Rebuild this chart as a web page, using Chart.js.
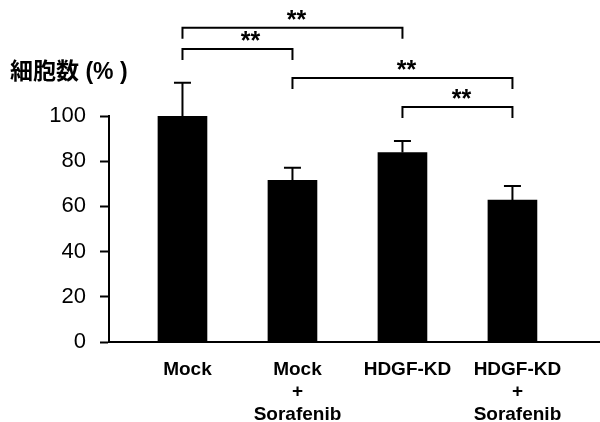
<!DOCTYPE html>
<html>
<head>
<meta charset="utf-8">
<script src="https://cdn.jsdelivr.net/npm/chart.js@4"></script>
<style>
  html, body { margin: 0; padding: 0; background: #fff; }
  #wrap { width: 600px; height: 422px; }
</style>
</head>
<body>
<div id="wrap"><canvas id="chart1"></canvas></div>
<script>
const groups = [['Mock'], ['Mock', '+', 'Sorafenib'], ['HDGF-KD'], ['HDGF-KD', '+', 'Sorafenib']];
const cellCount = [100, 71.5, 83.8, 62.8];
const errorTop = [114.7, 77.1, 88.9, 69.0];
const yTicks = [0, 20, 40, 60, 80, 100];
// pairs of bars compared, and the height (in % units) of each bracket
const comparisons = [[0, 2], [0, 1], [1, 3], [2, 3]];
const bracketLevel = [139, 129.7, 116.8, 104];
const marks = ['**', '**', '**', '**'];

const font = "'Liberation Sans', Arial, 'Noto Sans CJK JP', sans-serif";
const markShift = [4, 13, 4, 4];

const extras = {
    id: 'extras',
    afterDatasetsDraw(chart) {
        const c = chart.ctx;
        const ys = chart.scales.y;
        const bars = chart.getDatasetMeta(0).data;
        c.save();
        c.strokeStyle = '#000';
        c.fillStyle = '#000';
        c.lineWidth = 2;

        // error bars
        bars.forEach((b, i) => {
            const top = ys.getPixelForValue(errorTop[i]);
            c.beginPath();
            c.moveTo(b.x, b.y);
            c.lineTo(b.x, top);
            c.moveTo(b.x - 8.5, top);
            c.lineTo(b.x + 8.5, top);
            c.stroke();
        });

        // significance brackets
        c.textAlign = 'center';
        c.textBaseline = 'alphabetic';
        c.font = 'bold 25px ' + font;
        comparisons.forEach(([a, b], i) => {
            const x1 = bars[a].x, x2 = bars[b].x;
            const y = ys.getPixelForValue(bracketLevel[i]);
            c.beginPath();
            c.moveTo(x1, y + 11);
            c.lineTo(x1, y);
            c.lineTo(x2, y);
            c.lineTo(x2, y + 11);
            c.stroke();
            c.fillText(marks[i], (x1 + x2) / 2 + markShift[i], y);
        });

        // axis title
        c.textAlign = 'left';
        c.textBaseline = 'middle';
        c.font = 'bold 23px ' + font;
        c.fillText('細胞数 (% )', 10, 73);
        c.restore();
    }
};

const ctx = document.getElementById('chart1').getContext('2d');

const chart1 = new Chart(ctx, {
    type: 'bar',
    data: {
        datasets: [{
            data: cellCount.map((v, i) => ({ x: i + 1, y: v })),
            backgroundColor: '#000',
            borderWidth: 0,
            barThickness: 49
        }]
    },
    options: {
        responsive: true,
        maintainAspectRatio: false,
        animation: false,
        layout: { padding: { top: 116, left: 0, right: 0, bottom: 0 } },
        plugins: {
            legend: { display: false },
            tooltip: { enabled: false }
        },
        scales: {
            x: {
                type: 'linear',
                offset: false,
                min: 0.332,
                max: 4.796,
                afterFit: (s) => { s.height = 80; },
                afterBuildTicks: (s) => { s.ticks = groups.map((g, i) => ({ value: i + 1 })); },
                border: { color: '#000', width: 2 },
                grid: { display: false, drawTicks: false },
                ticks: {
                    autoSkip: false,
                    maxRotation: 0,
                    padding: 16,
                    labelOffset: 5,
                    color: '#000',
                    font: { family: font, size: 19, weight: 'bold', lineHeight: 1.2 },
                    callback: (v) => groups[v - 1]
                }
            },
            y: {
                min: 0,
                max: 100,
                afterFit: (s) => { s.width = 109; },
                afterBuildTicks: (s) => { s.ticks = yTicks.map((v) => ({ value: v })); },
                border: { color: '#000', width: 2 },
                grid: { drawOnChartArea: false, drawTicks: true, tickLength: 9, tickWidth: 2, color: '#000' },
                ticks: {
                    padding: 14,
                    color: '#000',
                    font: { family: font, size: 22 }
                }
            }
        }
    },
    plugins: [extras]
});
</script>
</body>
</html>
